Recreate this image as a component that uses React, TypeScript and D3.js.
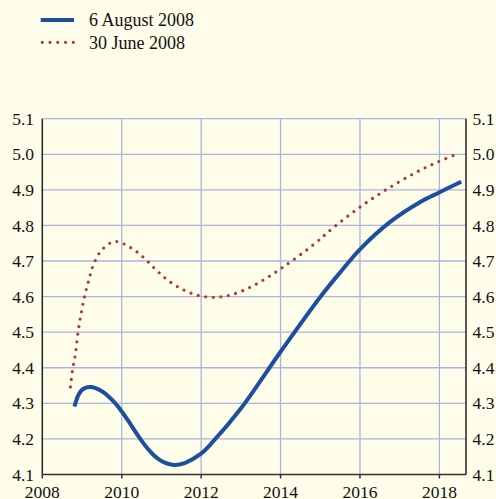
import React from "react";
import * as d3 from "d3";

const augYears = [2008.81, 2008.9, 2009.0, 2009.21, 2009.5, 2009.84, 2010.0, 2010.2, 2010.4, 2010.6, 2010.8, 2011.0, 2011.31, 2011.6, 2011.98, 2012.28, 2012.99, 2014.0, 2015.0, 2015.5, 2016.0, 2016.76, 2017.52, 2017.98, 2018.55];
const augValues = [4.291, 4.321, 4.338, 4.346, 4.334, 4.3, 4.277, 4.245, 4.211, 4.18, 4.155, 4.138, 4.127, 4.133, 4.157, 4.19, 4.284, 4.445, 4.599, 4.668, 4.733, 4.81, 4.866, 4.892, 4.923];

const junYears = [2008.71, 2008.76, 2008.83, 2008.9, 2008.98, 2009.06, 2009.17, 2009.29, 2009.49, 2009.82, 2010.22, 2010.55, 2010.85, 2011.16, 2011.52, 2011.9, 2012.3, 2012.72, 2013.3, 2014.0, 2014.84, 2015.32, 2015.98, 2016.68, 2017.41, 2017.97, 2018.5];
const junValues = [4.346, 4.393, 4.436, 4.5, 4.554, 4.599, 4.646, 4.69, 4.73, 4.755, 4.738, 4.71, 4.677, 4.646, 4.621, 4.604, 4.598, 4.604, 4.63, 4.678, 4.747, 4.793, 4.85, 4.902, 4.949, 4.979, 5.003];

const yTicks = [4.1, 4.2, 4.3, 4.4, 4.5, 4.6, 4.7, 4.8, 4.9, 5.0, 5.1];
const xTicks = [2008, 2010, 2012, 2014, 2016, 2018];

const seriesNames = ["6 August 2008", "30 June 2008"];

const W = 496;
const H = 499;
const BG = "#fefde9";
const GRID = "#aab4e2";
const BLUE = "#1d4f9f";
const RED = "#ac3a31";
const FONT = "Liberation Serif, Times New Roman, serif";

export default function App() {
  const x = d3.scaleLinear().domain([2008, 2018.67]).range([42.3, 466]);
  const y = d3.scaleLinear().domain([4.1, 5.1]).range([474.5, 118.7]);

  const line = d3
    .line<[number, number]>()
    .x((d) => x(d[0]))
    .y((d) => y(d[1]))
    .curve(d3.curveCatmullRom.alpha(0.5));

  const augData = augYears.map((t, i) => [t, augValues[i]] as [number, number]);
  const junData = junYears.map((t, i) => [t, junValues[i]] as [number, number]);

  const [x0, x1] = x.range();
  const [yb, yt] = y.range();

  return (
    <svg
      width={W}
      height={H}
      style={{ position: "absolute", left: 0, top: 0, background: BG, display: "block" }}
    >
      <rect x={0} y={0} width={W} height={H} fill={BG} />
      {/* legend */}
      <line x1={40.7} x2={74} y1={20} y2={20} stroke={BLUE} strokeWidth={4} />
      <text x={89} y={26} fontSize={18} fill="#111" fontFamily={FONT}>{seriesNames[0]}</text>
      <line
        x1={42.3}
        x2={74}
        y1={42.3}
        y2={42.3}
        stroke={RED}
        strokeWidth={3.2}
        strokeLinecap="round"
        strokeDasharray="0 7.75"
      />
      <text x={89} y={48.5} fontSize={18} fill="#111" fontFamily={FONT}>{seriesNames[1]}</text>

      {/* grid */}
      {yTicks.slice(1).map((v) => (
        <line key={"hg" + v} x1={x0} x2={x1} y1={y(v)} y2={y(v)} stroke={GRID} strokeWidth={1.3} />
      ))}
      {xTicks.slice(1).map((t) => (
        <line key={"vg" + t} x1={x(t)} x2={x(t)} y1={yt} y2={yb} stroke={GRID} strokeWidth={1.3} />
      ))}

      {/* axes */}
      <line x1={x0} x2={x0} y1={yt} y2={yb} stroke="#222" strokeWidth={1.5} />
      <line x1={x1} x2={x1} y1={yt} y2={yb} stroke="#222" strokeWidth={1.5} />
      <line x1={x0} x2={x1} y1={yb} y2={yb} stroke="#333" strokeWidth={1.5} />
      {xTicks.map((t) => (
        <line key={"xt" + t} x1={x(t)} x2={x(t)} y1={yb} y2={yb + 4} stroke="#333" strokeWidth={1.5} />
      ))}

      {/* labels */}
      {yTicks.map((v) => (
        <text key={"yl" + v} x={34} y={y(v)} dy="0.35em" textAnchor="end" fontSize={17.5} fill="#111" fontFamily={FONT}>
          {v.toFixed(1)}
        </text>
      ))}
      {yTicks.map((v) => (
        <text key={"yr" + v} x={472.5} y={y(v)} dy="0.35em" textAnchor="start" fontSize={17.5} fill="#111" fontFamily={FONT}>
          {v.toFixed(1)}
        </text>
      ))}
      {xTicks.map((t) => (
        <text key={"xl" + t} x={x(t)} y={497.5} textAnchor="middle" fontSize={17.5} fill="#111" fontFamily={FONT}>
          {t}
        </text>
      ))}

      {/* series */}
      <path
        d={line(junData) || ""}
        fill="none"
        stroke={RED}
        strokeWidth={3.2}
        strokeLinecap="round"
        strokeDasharray="0 7.6"
      />
      <path d={line(augData) || ""} fill="none" stroke={BLUE} strokeWidth={4} />
    </svg>
  );
}
